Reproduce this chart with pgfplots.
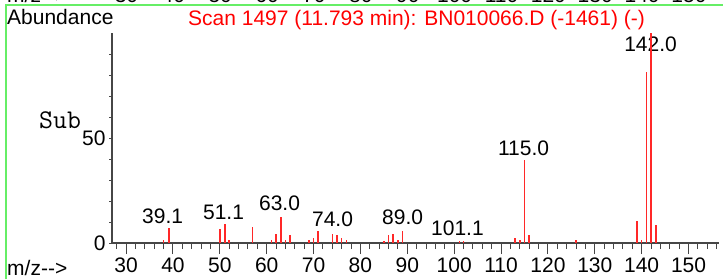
\documentclass[border=0pt]{standalone}
\usepackage{fontspec}
\setmainfont{Liberation Sans}
\usepackage{pgfplots}
\pgfplotsset{compat=1.18}
\definecolor{frame}{RGB}{102,238,102}
\definecolor{peak}{RGB}{255,40,40}
\definecolor{ax}{RGB}{70,70,70}
\newcommand\fs{\fontsize{21}{25}\selectfont}
\begin{document}
\begin{tikzpicture}[x=1pt,y=1pt]
\path[use as bounding box] (0,0) rectangle (723,279);
\begin{scope}
\clip (0,0) rectangle (723,279);
\node[anchor=base west, font=\fs, inner sep=0] at (7,276) {m/z-{}-{}>};
\foreach \v in {30,40,...,150} {
  \node[anchor=base, font=\fs, inner sep=0] at ({126.5+(\v-30)*4.6875},276) {\v};
}
\end{scope}
\draw[frame, line width=1.5pt] (6,0) -- (6,274) -- (723,274);
\node[anchor=base west, font=\fs, inner sep=0] at (7,254) {Abundance};
\node[anchor=base west, font=\fs, inner sep=0, text=red] at (188,253) {Scan 1497 (11.793 min): BN010066.D (-1461) (-)};
\node[anchor=base west, font=\fontsize{27}{30}\selectfont\ttfamily, inner sep=0] at (39,151) {Sub};
\node[anchor=base west, font=\fs, inner sep=0] at (7,4) {m/z-{}-{}>};

\begin{axis}[at={(112pt,36pt)}, anchor=south west, scale only axis,
  width=607pt, height=210pt,
  xmin=27, xmax=156.5, ymin=0, ymax=100,
  axis x line*=bottom, axis y line=none,
  xtick={30,40,...,150}, minor xtick={28,30,...,156},
  tick align=outside, major tick length=11pt, minor tick length=6pt,
  tick style={ax, line width=1pt},
  axis line style={ax, line width=1.3pt},
  xticklabel style={font=\fs},
  /pgf/number format/assume math mode=true,
  clip=false]
\node[anchor=base, font=\fs, inner sep=0] at (axis cs:37.8,9.5) {39.1};
\node[anchor=base, font=\fs, inner sep=0] at (axis cs:50.8,11) {51.1};
\node[anchor=base, font=\fs, inner sep=0] at (axis cs:62.75,15.4) {63.0};
\node[anchor=base, font=\fs, inner sep=0] at (axis cs:74.05,7.8) {74.0};
\node[anchor=base, font=\fs, inner sep=0] at (axis cs:89,8.6) {89.0};
\node[anchor=base, font=\fs, inner sep=0] at (axis cs:100.7,3.8) {101.1};
\node[anchor=base, font=\fs, inner sep=0] at (axis cs:114.8,41.9) {115.0};
\node[anchor=base, font=\fs, inner sep=0] at (axis cs:141.9,91.1) {142.0};
\addplot[ycomb, no marks, peak, line width=1.6pt] coordinates {
(38,1.5) (39.1,7.1) (50,6.8) (51.1,9) (52,1.5) (57,7.5)
(61,1.5) (62,4.4) (63,12.4) (64,1.5) (65,3.8)
(69,1.5) (70,2.5) (71,5.7) (74,4.4) (75,3.8) (76,2.5) (77,1.5)
(85,1) (86,3.8) (87,4.4) (88,1.5) (89,5.7)
(101.1,1) (102,1)
(113,2.5) (114,1.5) (115,39.5) (116,3.8) (126,1.5)
(139,10.5) (140,1.5) (141,81.6) (142,100) (143,8.6)
};
\end{axis}

\begin{axis}[at={(112pt,36pt)}, anchor=south west, scale only axis,
  width=607pt, height=210pt,
  xmin=27, xmax=156.5, ymin=0, ymax=100,
  axis y line*=left, axis x line=none,
  ytick={0,50}, minor ytick={10,20,...,90},
  tick align=outside, major tick length=3pt, minor tick length=3pt,
  tick style={ax, line width=1pt},
  axis line style={ax, line width=1.3pt},
  yticklabel style={font=\fs},
  /pgf/number format/assume math mode=true]
\end{axis}
\end{tikzpicture}
\end{document}
